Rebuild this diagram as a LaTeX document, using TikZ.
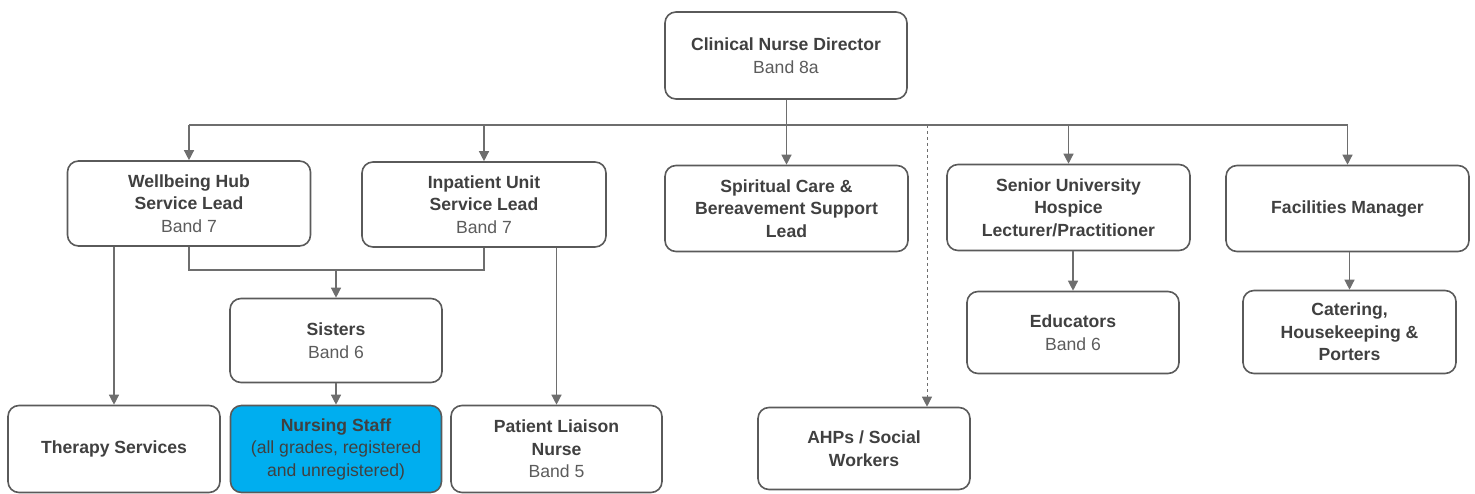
\documentclass[tikz,border=0pt]{standalone}
\usepackage{fontspec}
\setmainfont{Liberation Sans}
\usetikzlibrary{arrows.meta}

\definecolor{boxgray}{HTML}{5A5A5A}
\definecolor{linegray}{HTML}{6E6E6E}
\definecolor{textgray}{HTML}{404040}
\definecolor{bandgray}{HTML}{5C5C5C}
\definecolor{nurseblue}{HTML}{00AEEF}

\newcommand{\band}[1]{{\mdseries\color{bandgray}#1}}

\tikzset{
  box/.style={draw=boxgray, line width=1.6pt, rounded corners=11pt, fill=white,
    minimum width=243pt, minimum height=86pt, align=center, text=textgray,
    font=\fontsize{17.6}{22.5}\selectfont\bfseries},
  smallbox/.style={box, minimum width=212pt, minimum height=84pt},
  conn/.style={draw=linegray, line width=1.3pt, -{Triangle[length=10pt,width=10pt]}},
  plainconn/.style={draw=linegray, line width=1.3pt},
}

\begin{document}
\begin{tikzpicture}[x=1pt, y=-1pt]
      \useasboundingbox (0,0) rectangle (1475,494);

      \node[box, minimum width=242pt, minimum height=87pt] (cnd) at (786,55.5) {Clinical Nurse Director\\\band{Band 8a}};

      \node[box, minimum height=85pt] (wellbeing) at (189,203.5) {Wellbeing Hub\\Service Lead\\\band{Band 7}};
      \node[box, minimum width=244pt, minimum height=85pt] (inpatient) at (484,204.5) {Inpatient Unit\\Service Lead\\\band{Band 7}};
      \node[box] (spiritual) at (786.5,208.5) {Spiritual Care \&\\Bereavement Support\\Lead};
      \node[box] (senior) at (1068.5,207.5) {Senior University\\Hospice\\Lecturer/Practitioner};
      \node[box] (facilities) at (1347.5,208.5) {Facilities Manager};

      \node[smallbox] (sisters) at (336,340.5) {Sisters\\\band{Band 6}};
      \node[smallbox, minimum height=82pt] (educators) at (1073,332.5) {Educators\\\band{Band 6}};
      \node[smallbox, minimum width=213pt, minimum height=83pt] (catering) at (1349.5,332) {Catering,\\Housekeeping \&\\Porters};

      \node[smallbox, minimum height=87pt] (therapy) at (114,449) {Therapy Services};
      \node[smallbox, minimum width=211pt, minimum height=87pt, fill=nurseblue] (nursing) at (336,449) {Nursing Staff\\\mdseries(all grades, registered\\\mdseries and unregistered)};
      \node[smallbox, minimum width=211pt, minimum height=87pt] (liaison) at (556.5,449) {Patient Liaison\\Nurse\\\band{Band 5}};
      \node[smallbox, minimum height=82pt] (ahps) at (864,448.5) {AHPs / Social\\Workers};

      % bus under the director
      \coordinate (bus) at (0,125);
      \coordinate (dash) at (927,125);
      \coordinate (merge) at (336,270);

      \draw[plainconn] (wellbeing.north |- bus) -- (facilities.north |- bus);
      \draw[conn] (spiritual.north |- cnd.south) -- (spiritual.north);
      \draw[conn] (wellbeing.north |- bus) -- (wellbeing.north);
      \draw[conn] (inpatient.north |- bus) -- (inpatient.north);
      \draw[conn] (senior.north |- bus) -- (senior.north);
      \draw[conn] (facilities.north |- bus) -- (facilities.north);
      \draw[conn, dashed, line width=1pt] (dash) -- (dash |- ahps.north);

      \draw[plainconn] (wellbeing.south) |- (merge) -| (inpatient.south);
      \draw[conn] (merge) -- (sisters.north);
      \draw[conn] (sisters.south) -- (nursing.north);
      \draw[conn] (therapy.north |- wellbeing.south) -- (therapy.north);
      \draw[conn] (liaison.north |- inpatient.south) -- (liaison.north);

      \draw[conn] (educators.north |- senior.south) -- (educators.north);
      \draw[conn] (catering.north |- facilities.south) -- (catering.north);
\end{tikzpicture}
\end{document}
